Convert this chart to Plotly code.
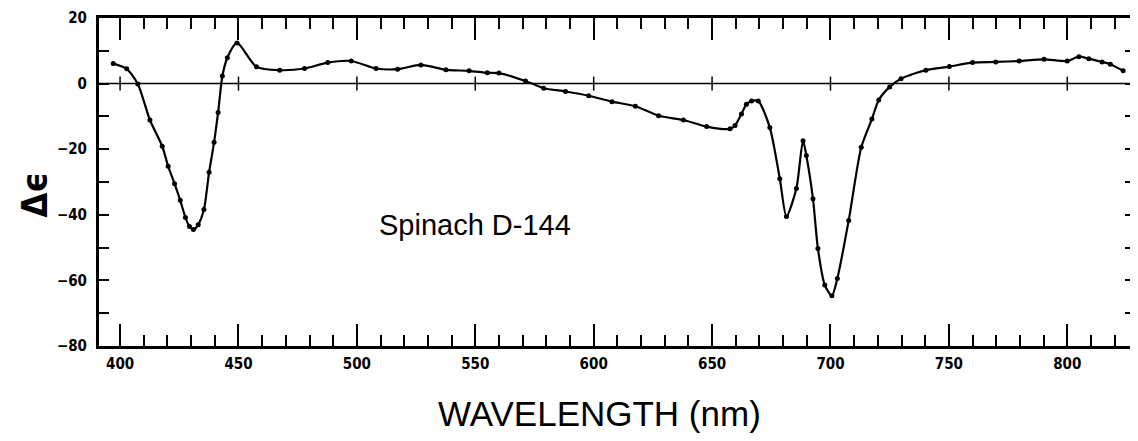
import plotly.graph_objects as go

# Wavelength (nm) and CD signal (delta epsilon)
wavelength = [397.1, 402.8, 407.5, 412.6, 417.8, 420.3, 423.0, 425.4, 427.6, 429.3,
              431.0, 433.0, 435.4, 437.6, 439.7, 441.4, 443.2, 445.3, 449.4, 457.6,
              467.4, 477.9, 487.7, 497.6, 508.1, 517.2, 527.0, 537.6, 547.4, 555.1,
              560.0, 571.2, 578.9, 588.1, 597.9, 607.7, 617.6, 627.4, 637.9, 647.7,
              657.6, 659.7, 662.4, 664.5, 666.7, 669.5, 674.4, 678.6, 681.4, 685.6,
              688.4, 689.8, 692.6, 694.7, 697.6, 700.6, 702.9, 707.7, 713.0, 717.5,
              720.4, 725.0, 729.8, 740.3, 750.2, 760.0, 769.8, 779.7, 790.2, 800.0,
              804.9, 809.1, 814.7, 818.2, 823.6]
delta_eps = [6.1, 4.5, -0.1, -11.1, -19.1, -25.2, -30.5, -35.6, -40.8, -43.6,
             -44.5, -43.0, -38.4, -27.0, -17.9, -8.8, 2.3, 7.9, 12.4, 5.1,
             4.1, 4.6, 6.4, 6.9, 4.6, 4.4, 5.7, 4.2, 3.9, 3.3,
             3.2, 0.8, -1.4, -2.4, -3.7, -5.5, -6.9, -9.8, -11.1, -13.1,
             -13.8, -12.8, -9.3, -6.3, -5.3, -5.3, -13.4, -29.0, -40.5, -32.0,
             -17.4, -21.9, -35.1, -50.3, -61.4, -64.7, -59.4, -41.7, -19.4, -10.8,
             -5.0, -1.0, 1.5, 4.1, 5.2, 6.4, 6.6, 6.9, 7.4, 6.9,
             8.2, 7.6, 6.6, 5.9, 3.9]

x_major_ticks = [400, 450, 500, 550, 600, 650, 700, 750, 800]
y_major_ticks = [20, 0, -20, -40, -60, -80]
x_range = [391.1, 828.6]
y_range = [-80, 20]

sample_label = "Spinach D-144"
x_title = "WAVELENGTH (nm)"
y_title = "Δϵ"

tick_font = dict(family="Liberation Sans Narrow, DejaVu Sans Condensed, Arial Narrow, sans-serif",
                 size=15, color="black", weight="bold")

fig = go.Figure()

# zero baseline
fig.add_trace(go.Scatter(x=x_range, y=[0, 0], mode="lines",
                         line=dict(color="black", width=1.5),
                         hoverinfo="skip", showlegend=False))
# small crosses on the baseline at each labelled wavelength
fig.add_trace(go.Scatter(x=x_major_ticks, y=[0] * len(x_major_ticks), mode="markers",
                         marker=dict(symbol="line-ns", size=10,
                                     line=dict(color="black", width=1.5)),
                         hoverinfo="skip", showlegend=False))
# CD spectrum
fig.add_trace(go.Scatter(x=wavelength, y=delta_eps, mode="lines+markers",
                         line=dict(color="black", width=2.2, shape="spline", smoothing=0.7),
                         marker=dict(color="black", size=5),
                         showlegend=False))

fig.update_xaxes(range=x_range, tickvals=x_major_ticks,
                 ticks="inside", ticklen=22, tickwidth=1.5, tickcolor="black",
                 minor=dict(dtick=10, tick0=400, ticks="inside", ticklen=11,
                            tickwidth=1.5, tickcolor="black"),
                 showline=True, linewidth=3, linecolor="black", mirror="ticks",
                 showgrid=False, zeroline=False, tickfont=tick_font,
                 ticklabelstandoff=2, ticklabeloverflow="allow")
fig.update_yaxes(range=y_range, tickvals=y_major_ticks,
                 ticks="inside", ticklen=10, tickwidth=1.5, tickcolor="black",
                 minor=dict(dtick=10, tick0=0, ticks="inside", ticklen=10,
                            tickwidth=1.5, tickcolor="black"),
                 showline=True, linewidth=3, linecolor="black", mirror="ticks",
                 showgrid=False, zeroline=False, tickfont=tick_font,
                 ticklabelstandoff=6, ticklabeloverflow="allow")

fig.add_annotation(text=sample_label, x=508.6, y=-43, xref="x", yref="y",
                   xanchor="left", yanchor="middle", showarrow=False,
                   font=dict(family="Liberation Sans, Arial, sans-serif", size=29, color="black"))
fig.add_annotation(text=x_title, x=0.483, y=-0.206, xref="paper", yref="paper",
                   xanchor="center", yanchor="middle", showarrow=False,
                   font=dict(family="Liberation Sans, Arial, sans-serif", size=35, color="black"))
fig.add_annotation(text=y_title, x=-0.063, y=0.46, xref="paper", yref="paper",
                   xanchor="center", yanchor="middle", showarrow=False, textangle=-90,
                   borderpad=0,
                   font=dict(family="DejaVu Sans Condensed, DejaVu Sans, sans-serif",
                             size=36, color="black", weight="bold"))

fig.update_layout(width=1130, height=433,
                  margin=dict(l=91, r=0, t=10, b=95),
                  paper_bgcolor="white", plot_bgcolor="white")

fig.write_html("out.html")
